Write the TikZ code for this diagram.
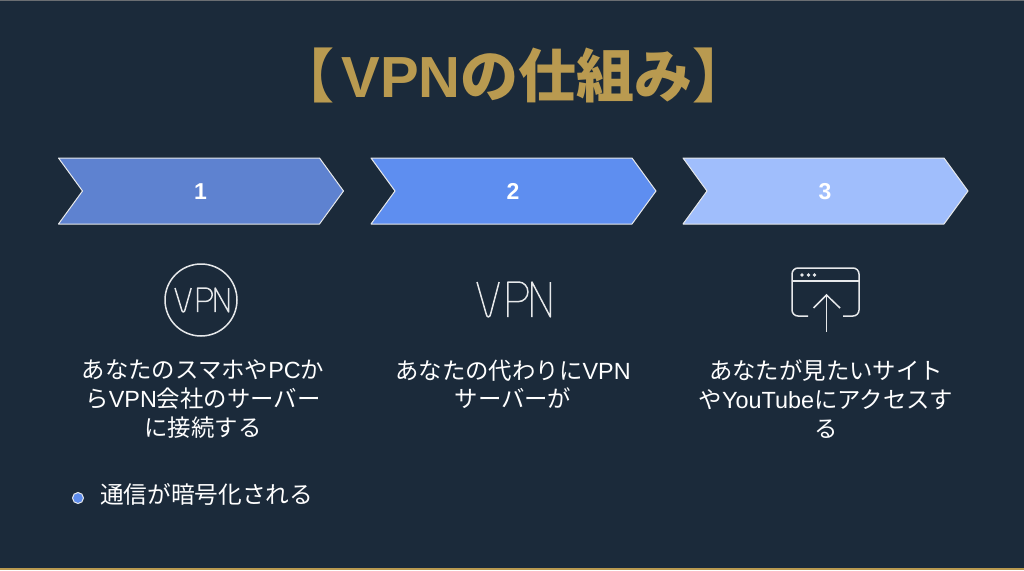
\documentclass[tikz,border=0pt]{standalone}
\usepackage{fontspec}
\setmainfont{Noto Sans CJK JP}
\newfontfamily\latinfont{Liberation Sans}
\newcommand{\lat}[1]{{\latinfont #1}}
\usetikzlibrary{positioning}

\definecolor{slidebg}{HTML}{1B2A3A}
\definecolor{titlegold}{HTML}{B99A50}
\definecolor{stepone}{HTML}{5E82D0}
\definecolor{steptwo}{HTML}{5E8EF0}
\definecolor{stepthree}{HTML}{A0BEFC}
\definecolor{iconline}{HTML}{E6E8EA}

\tikzset{
  steplabel/.style={text=white,font=\fontsize{23}{23}\selectfont\latinfont\bfseries},
  bodytext/.style={text=white,align=center,font=\fontsize{23.4}{28.6}\selectfont},
  iconstroke/.style={draw=iconline,line width=1.5pt},
  vpnmark/.pic={
    \draw[iconstroke,line join=round]
      (0,-1) -- (.27,-.1) to[out=-70,in=180] (.34,0) to[out=0,in=-110] (.41,-.1) -- (.66,-1);
    \draw[iconstroke,line join=round]
      (.92,0) -- (.92,-1) -- (1.24,-1) to[out=0,in=90] (1.52,-.72) to[out=-90,in=0] (1.24,-.44) -- (.92,-.44);
    \draw[iconstroke,line join=round]
      (1.64,0) -- (1.64,-1) -- (2.19,0) -- (2.19,-1);
  }
}

\begin{document}
\begin{tikzpicture}[x=1pt,y=-1pt]

\useasboundingbox (0,0) rectangle (1024,570);
\fill[slidebg] (0,0) rectangle (1024,570);
\fill[gray!80!slidebg] (0,0) rectangle (1024,1.2);
\fill[titlegold] (0,568) rectangle (1024,570);

\node[text=titlegold,font=\fontsize{58}{58}\selectfont\bfseries] (title) at (513.5,75) {【\hspace{7pt}\lat{VPN}の仕組み】};

% chevrons
\foreach \xpos/\stepcol/\stepnum in {58.5/stepone/1,371/steptwo/2,683/stepthree/3}{
  \draw[draw=iconline,line width=1pt,fill=\stepcol,line join=round]
    (\xpos,158) -- ++(261,0) -- ++(24,33) -- ++(-24,33) -- ++(-261,0) -- ++(24,-33) -- cycle;
  \node[steplabel] (step\stepnum) at (\xpos+142,191.5) {\stepnum};
}

% icons
\draw[iconstroke] (201,300) circle (36);
\pic[xscale=24.5,yscale=24] at (175,312) {vpnmark};
\pic[xscale=33.5,yscale=35] at (477,317) {vpnmark};

\draw[iconstroke,rounded corners=6pt] (808,316) -- (792,316) -- (792,268) -- (859,268) -- (859,316) -- (843,316);
\draw[iconstroke] (792,281) -- (859,281);
\foreach \xdot in {802,808.5,814.5}{
  \fill[iconline] (\xdot,275) circle (1.9);
}
\draw[iconstroke] (826.5,332) -- (826.5,295);
\draw[iconstroke] (813.5,308) -- (826.5,295) -- (840,308);

% texts
\node[bodytext] (textone) at (203,399) {あなたのスマホや\lat{PC}か\\ら\lat{VPN}会社のサーバー\\に接続する};
\node[bodytext] (texttwo) at (513,384.5) {あなたの代わりに\lat{VPN}\\サーバーが};
\node[bodytext] (textthree) at (826,399) {あなたが見たいサイト\\や\lat{YouTube}にアクセスす\\る};

\node[circle,draw=iconline,fill=steptwo!85!stepone,line width=1pt,inner sep=0pt,minimum size=11pt] (dot) at (78,498) {};
\node[bodytext,anchor=west,font=\fontsize{23.7}{28}\selectfont] (bullet) at (96.5,494) {通信が暗号化される};

\end{tikzpicture}
\end{document}
